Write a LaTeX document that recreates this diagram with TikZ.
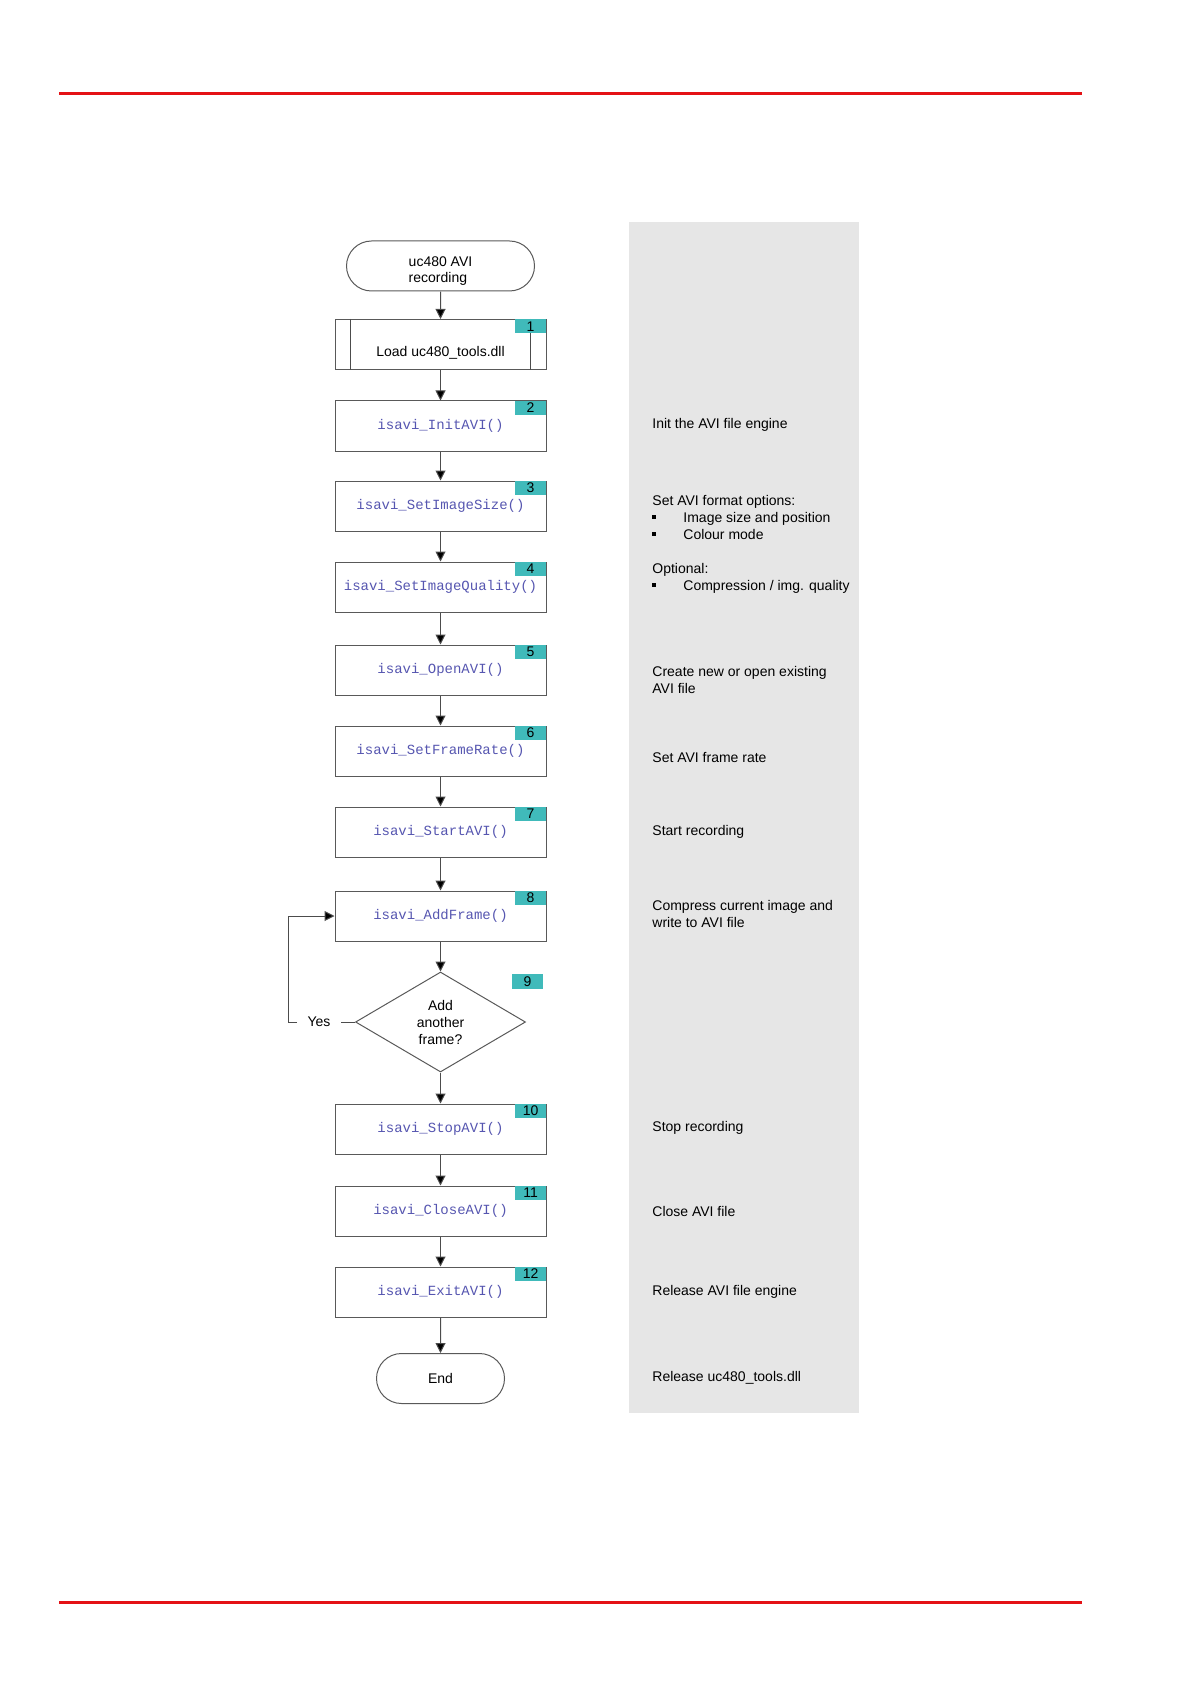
\documentclass[tikz,border=0pt]{standalone}
\usepackage{fontspec}
\setmainfont{Liberation Sans}
\newfontfamily\codefont{Liberation Mono}
\usetikzlibrary{shapes.geometric,shapes.misc,arrows.meta}

\definecolor{badgeteal}{RGB}{64,186,186}
\definecolor{codeblue}{RGB}{86,86,176}
\definecolor{panelgray}{RGB}{230,230,230}
\definecolor{rulered}{RGB}{228,18,22}

\newcommand{\bul}{\makebox[15.5pt][l]{\rule[1.6pt]{2pt}{2pt}}}

\tikzset{
  proc/.style={draw=black!65, line width=0.5pt, minimum width=105.5pt,
    minimum height=25pt, inner sep=0pt, text=codeblue,
    font=\codefont\fontsize{7}{8}\selectfont},
  term/.style={rounded rectangle, draw=black!65, line width=0.5pt,
    minimum height=25pt, inner sep=0pt, align=left,
    font=\fontsize{7}{8}\selectfont},
  badge/.style={fill=badgeteal, minimum width=15.5pt, minimum height=7pt,
    inner sep=0pt, font=\fontsize{7}{7}\selectfont},
  flow/.style={draw=black!70, line width=0.5pt,
    -{Triangle[length=5pt,width=5pt,fill=black]}},
  link/.style={draw=black!70, line width=0.5pt},
  note/.style={anchor=west, align=left, inner sep=0pt,
    font=\fontsize{7}{8.5}\selectfont},
}

\begin{document}
\begin{tikzpicture}[x=0.5pt, y=-0.5pt]
  \useasboundingbox (0,0) rectangle (1190,1684);

  % page rules and side panel
  \draw[rulered, line width=1.5pt] (59,94) -- (1082,94);
  \draw[rulered, line width=1.5pt] (59,1602) -- (1082,1602);
  \fill[panelgray] (629,222) rectangle (859,1413);

  % flow column
  \node[term, minimum width=94pt] (start) at (440.5,266)
    {\raisebox{-8.5pt}[0pt][0pt]{\begin{tabular}[b]{@{}l@{}}uc480 AVI\\recording\end{tabular}}};
  \node[proc, text=black, font=\fontsize{7}{8}\selectfont]
    (load) at (440.5,344.5) {\raisebox{-6pt}[0pt][0pt]{Load uc480\_tools.dll}};
  \draw[link] ([xshift=8pt]load.north west) -- ([xshift=8pt]load.south west);
  \draw[link] ([xshift=-8pt]load.north east) -- ([xshift=-8pt]load.south east);
  \node[badge, anchor=north east] at (load.north east) {1};

  \foreach \name/\y/\call/\num in {
      init/426/{isavi\_InitAVI()}/2,
      size/506/{isavi\_SetImageSize()}/3,
      quality/587/{isavi\_SetImageQuality()}/4,
      open/670/{isavi\_OpenAVI()}/5,
      rate/751/{isavi\_SetFrameRate()}/6,
      startavi/832/{isavi\_StartAVI()}/7,
      add/916/{isavi\_AddFrame()}/8,
      stop/1129/{isavi\_StopAVI()}/10,
      close/1211/{isavi\_CloseAVI()}/11,
      exit/1292/{isavi\_ExitAVI()}/12} {
    \node[proc] (\name) at (440.5,\y) {\raisebox{-1pt}{\call}};
    \node[badge, anchor=north east] at (\name.north east) {\num};
  }

  \node[diamond, draw=black!65, line width=0.5pt, minimum width=85pt,
    minimum height=50pt, inner sep=0pt, align=center,
    font=\fontsize{7}{8.5}\selectfont] (more) at (440.5,1022)
    {Add\\another\\frame?};
  \node[badge, minimum height=7.5pt] at (527.5,981.5) {9};

  \node[term, minimum width=64pt, font=\fontsize{7}{8}\selectfont]
    (end) at (440.5,1378.5) {End};

  \foreach \a/\b in {start/load, load/init, init/size, size/quality,
      quality/open, open/rate, rate/startavi, startavi/add, add/more,
      more/stop, stop/close, close/exit, exit/end}
    \draw[flow] (\a) -- (\b);

  % loop back
  \node[font=\fontsize{7}{8}\selectfont, inner sep=5pt] (yes) at (319,1022) {Yes};
  \coordinate (loopcorner) at (288,1022);
  \draw[link] (more.west) -- (yes.east);
  \draw[flow] (yes.west) -- (loopcorner) |- (add.west);

  % notes
  \node[note] (n2) at (652,425) {Init the AVI file engine};
  \node[note] (n3) at (652,517) {Set AVI format options:\\
    \bul Image size and position\\ \bul Colour mode};
  \node[note] (n4) at (652,578) {Optional:\\ \bul Compression / img. quality};
  \node[note] (n5) at (652,680) {Create new or open existing\\AVI file};
  \node[note] (n6) at (652,757) {Set AVI frame rate};
  \node[note] (n7) at (652,832) {Start recording};
  \node[note] (n8) at (652,914) {Compress current image and\\write to AVI file};
  \node[note] (n10) at (652,1128) {Stop recording};
  \node[note] (n11) at (652,1211) {Close AVI file};
  \node[note] (n12) at (652,1292) {Release AVI file engine};
  \node[note] (n13) at (652,1378) {Release uc480\_tools.dll};
\end{tikzpicture}
\end{document}
